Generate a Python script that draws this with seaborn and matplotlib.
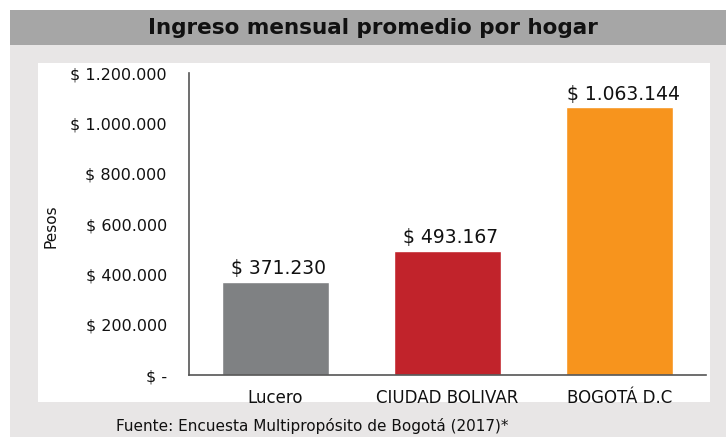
import numpy as np
import pandas as pd
import matplotlib.pyplot as plt
import seaborn as sns
from matplotlib.patches import Rectangle

categorias = ["Lucero", "CIUDAD BOLIVAR", "BOGOTÁ D.C"]
ingresos = [371230, 493167, 1063144]
colores = ["#7f8183", "#c1232b", "#f7941d"]
yticks = [0, 200000, 400000, 600000, 800000, 1000000, 1200000]


def pesos(v):
    if v == 0:
        return "$ -"
    return "$ " + f"{v:,.0f}".replace(",", ".")


df = pd.DataFrame({"zona": categorias, "ingreso": ingresos})

sns.set_theme(style="white")
plt.rcParams["font.family"] = ["DejaVu Sans"]

W, H = 726, 437
fig = plt.figure(figsize=(W / 100, H / 100), dpi=100)
fig.patch.set_facecolor("white")

# fondo gris, barra de titulo y panel blanco
fig.patches.append(Rectangle((10 / W, 0), 1, 1 - 45 / H, transform=fig.transFigure,
                             facecolor="#e8e6e6", edgecolor="none", zorder=-3))
fig.patches.append(Rectangle((10 / W, 1 - 45 / H), 1, 35 / H, transform=fig.transFigure,
                             facecolor="#a6a6a6", edgecolor="none", zorder=-3))
fig.patches.append(Rectangle((38 / W, 1 - 402 / H), 672 / W, 339 / H, transform=fig.transFigure,
                             facecolor="white", edgecolor="none", zorder=-2))

fig.text(373 / W, 1 - 28 / H, "Ingreso mensual promedio por hogar", ha="center", va="center",
         fontsize=15.5, fontweight="bold", color="#111111")

ax = fig.add_axes([189 / W, 1 - 375 / H, 517 / W, 302 / H])
ax.patch.set_alpha(0)
sns.barplot(data=df, x="zona", y="ingreso", hue="zona", palette=colores, width=0.62,
            legend=False, ax=ax, saturation=1)

ax.set_ylim(0, 1200000)
ax.set_yticks(yticks)
ax.set_yticklabels([pesos(v) for v in yticks], fontsize=11.5, color="#111111")
ax.tick_params(axis="y", pad=16, length=0)
ax.tick_params(axis="x", pad=10, length=0, labelsize=12, labelcolor="#111111")
ax.set_xlabel("")
ax.set_ylabel("")

for s in ["top", "right"]:
    ax.spines[s].set_visible(False)
ax.spines["left"].set_color("#555555")
ax.spines["bottom"].set_color("#555555")
ax.spines["left"].set_linewidth(1.2)
ax.spines["bottom"].set_linewidth(1.2)

for i, v in enumerate(ingresos):
    ax.text(i + 0.02, v + 15000, pesos(v), ha="center", va="bottom", fontsize=13.5, color="#111111")

fig.text(51 / W, 1 - 226 / H, "Pesos", rotation=90, ha="center", va="center",
         fontsize=11, color="#111111", family=["Liberation Sans Narrow", "DejaVu Sans"])

fig.text(312 / W, 1 - 426 / H, "Fuente: Encuesta Multipropósito de Bogotá (2017)*",
         ha="center", va="center", fontsize=11, color="#111111")

fig.savefig("out.png", dpi=100)
